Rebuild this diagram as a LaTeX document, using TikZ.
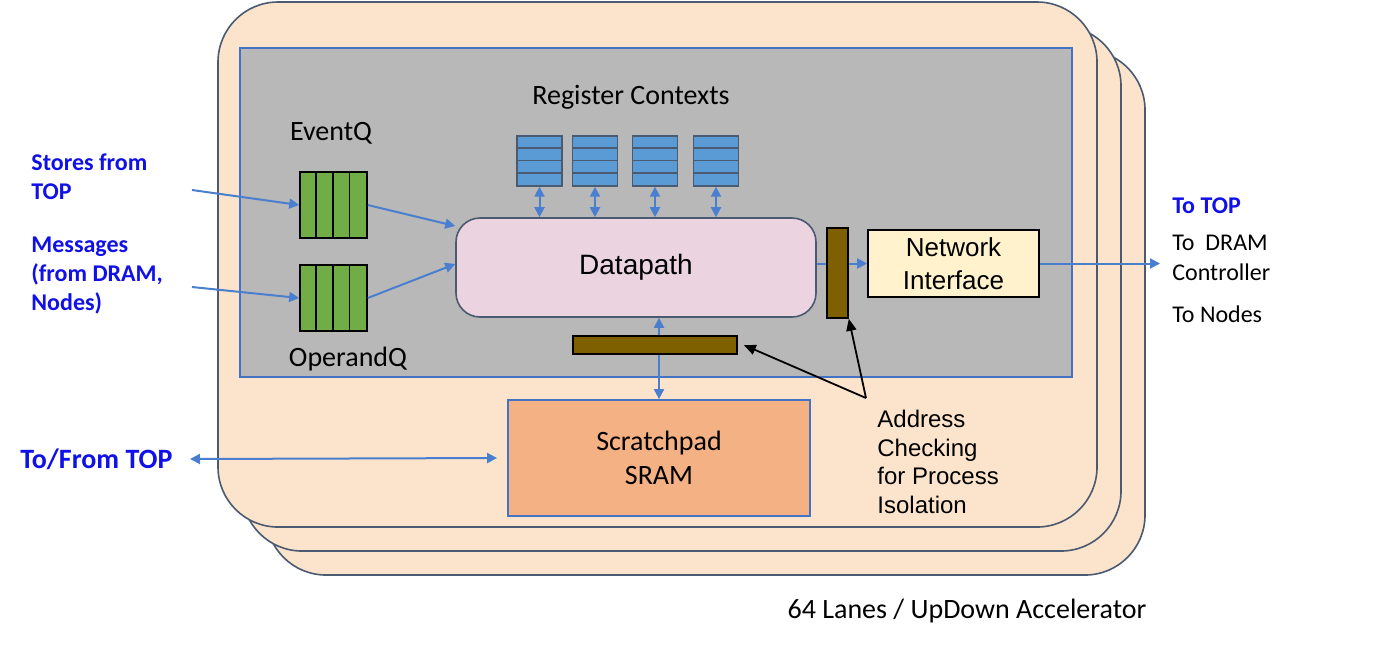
\documentclass[tikz,border=0pt]{standalone}
\usepackage{fontspec}
\setmainfont{Carlito}
\newfontfamily\arialf{Liberation Sans}
\usetikzlibrary{arrows.meta}
\definecolor{peach}{HTML}{FCE4CC}
\definecolor{slate}{HTML}{4A5A70}
\definecolor{coregray}{HTML}{B8B8B8}
\definecolor{linkblue}{HTML}{4A7FD0}
\definecolor{borderblue}{HTML}{4472C4}
\definecolor{qgreen}{HTML}{70AD47}
\definecolor{regblue}{HTML}{5B9BD5}
\definecolor{dppink}{HTML}{EBD3DF}
\definecolor{brownbar}{HTML}{7F6000}
\definecolor{niyellow}{HTML}{FFF2CC}
\definecolor{sporange}{HTML}{F4B183}
\definecolor{labelblue}{HTML}{1010E8}
\begin{document}
\begin{tikzpicture}[x=0.5pt,y=-0.5pt,
  peachbox/.style={draw=slate,line width=0.8pt,fill=peach,rounded corners=30pt},
  queue/.style={draw=black,line width=0.8pt,fill=qgreen,minimum width=33.5pt,minimum height=33pt,inner sep=0pt},
  regblk/.style={draw=slate,line width=0.7pt,fill=regblue,minimum width=22.5pt,minimum height=25pt,inner sep=0pt},
  bar/.style={draw=black,line width=0.8pt,fill=brownbar,inner sep=0pt},
  link/.style={draw=linkblue,line width=1pt,-{Triangle[length=5pt,width=5pt]}},
  dlink/.style={draw=linkblue,line width=1pt,{Triangle[length=5pt,width=5pt]}-{Triangle[length=5pt,width=5pt]}},
  blk/.style={draw=black,line width=0.9pt,-{Triangle[length=6pt,width=5pt]}},
  cal/.style={font=\fontsize{14}{17}\selectfont,inner sep=0pt},
  bluelbl/.style={font=\fontsize{12}{14.5}\selectfont\bfseries,text=labelblue,inner sep=0pt,align=left},
  side/.style={font=\fontsize{12}{15}\selectfont,inner sep=0pt,align=left}]
\useasboundingbox (0,0) rectangle (1379,645);
% stacked lanes
\draw[peachbox] (266,50) rectangle (1145,575);
\draw[peachbox] (242,26) rectangle (1121,551);
\draw[peachbox] (218,2) rectangle (1097,527);
% core
\draw[draw=borderblue,line width=0.9pt,fill=coregray] (240,48) rectangle (1072,377);
% labels
\node[cal] (lreg) at (631,97) {Register Contexts};
\node[cal] (levq) at (331,133) {EventQ};
\node[cal] (lopq) at (348,359) {OperandQ};
% queues
\node[queue] (evq) at (333.5,205) {};
\node[queue] (opq) at (333.5,298) {};
\foreach \q in {evq,opq}{
  \foreach \i in {1,2,3}{
    \draw[line width=0.8pt] ([xshift=\i*8.375pt]\q.north west) -- ([xshift=\i*8.375pt]\q.south west);
  }
}
% register contexts
\foreach \n/\x in {r1/539.5,r2/595,r3/655,r4/716}{
  \node[regblk] (\n) at (\x,161) {};
  \foreach \i in {1,2,3}{
    \draw[draw=slate,line width=0.7pt] ([yshift=-\i*6.25pt]\n.north west) -- ([yshift=-\i*6.25pt]\n.north east);
  }
}
% datapath
\node[draw=slate,line width=0.8pt,fill=dppink,rounded corners=12pt,minimum width=180pt,minimum height=49.5pt,inner sep=0pt,font=\arialf\fontsize{14}{17}\selectfont] (dp) at (636,267.5) {Datapath};
% network interface
\node[draw=black,line width=0.9pt,fill=niyellow,minimum width=85.5pt,minimum height=33.5pt,inner sep=0pt,align=center,font=\arialf\fontsize{13}{16.5}\selectfont] (ni) at (953.5,263.5) {Network\\Interface};
% scratchpad
\node[draw=borderblue,line width=0.9pt,fill=sporange,minimum width=151pt,minimum height=58pt,inner sep=0pt,align=center,font=\fontsize{14}{17}\selectfont] (sp) at (659,458) {Scratchpad\\SRAM};
% outside labels
\node[bluelbl,anchor=west] (lst) at (31,177) {Stores from\\TOP};
\node[bluelbl,anchor=west] (lmsg) at (31,276) {Messages\\(from DRAM,\\Nodes)};
\node[bluelbl,anchor=west,font=\fontsize{14}{17}\selectfont\bfseries] (ltf) at (20,459) {To/From TOP};
\node[bluelbl,anchor=base west] (ltt) at (1172,213) {To TOP};
\node[side,anchor=west] (ldram) at (1172,258) {To~~DRAM\\Controller};
\node[side,anchor=base west] (lnodes) at (1172,322) {To Nodes};
\node[side,anchor=west,font=\arialf\fontsize{12}{14.25}\selectfont] (laddr) at (877,462) {Address\\Checking\\for Process\\Isolation};
\node[cal,anchor=base] (llanes) at (967,618) {64 Lanes / UpDown Accelerator};
% connectors
\coordinate (ins) at (192,190);
\coordinate (inm) at (192,287);
\coordinate (outr) at (1160,263.5);
\coordinate (tfl) at (190,459);
\coordinate (apex) at (866,398);
\draw[link] (ins) -- (evq.west);
\draw[link] (inm) -- (opq.west);
\draw[link] (evq.east) -- ([yshift=20.75pt]dp.west);
\draw[link] (opq.east) -- ([yshift=1.75pt]dp.west);
\foreach \n in {r1,r2,r3,r4}{
  \draw[dlink] (\n.south) -- (\n.south |- dp.north);
}
\draw[link] (ni.west -| dp.east) -- (ni.west);
\draw[link] (ni.east) -- (outr);
\draw[dlink] (sp.north) -- (sp.north |- dp.south);
\draw[dlink] (tfl) -- ([xshift=-5pt]sp.west);
% address-check bars
\node[bar,minimum width=10.5pt,minimum height=45pt] (vbar) at (837.5,273) {};
\node[bar,minimum width=82pt,minimum height=9pt] (hbar) at (655,345) {};
\draw[blk] (apex) -- ([xshift=3pt]hbar.east);
\draw[blk] (apex) -- (vbar.south east);
\end{tikzpicture}
\end{document}
